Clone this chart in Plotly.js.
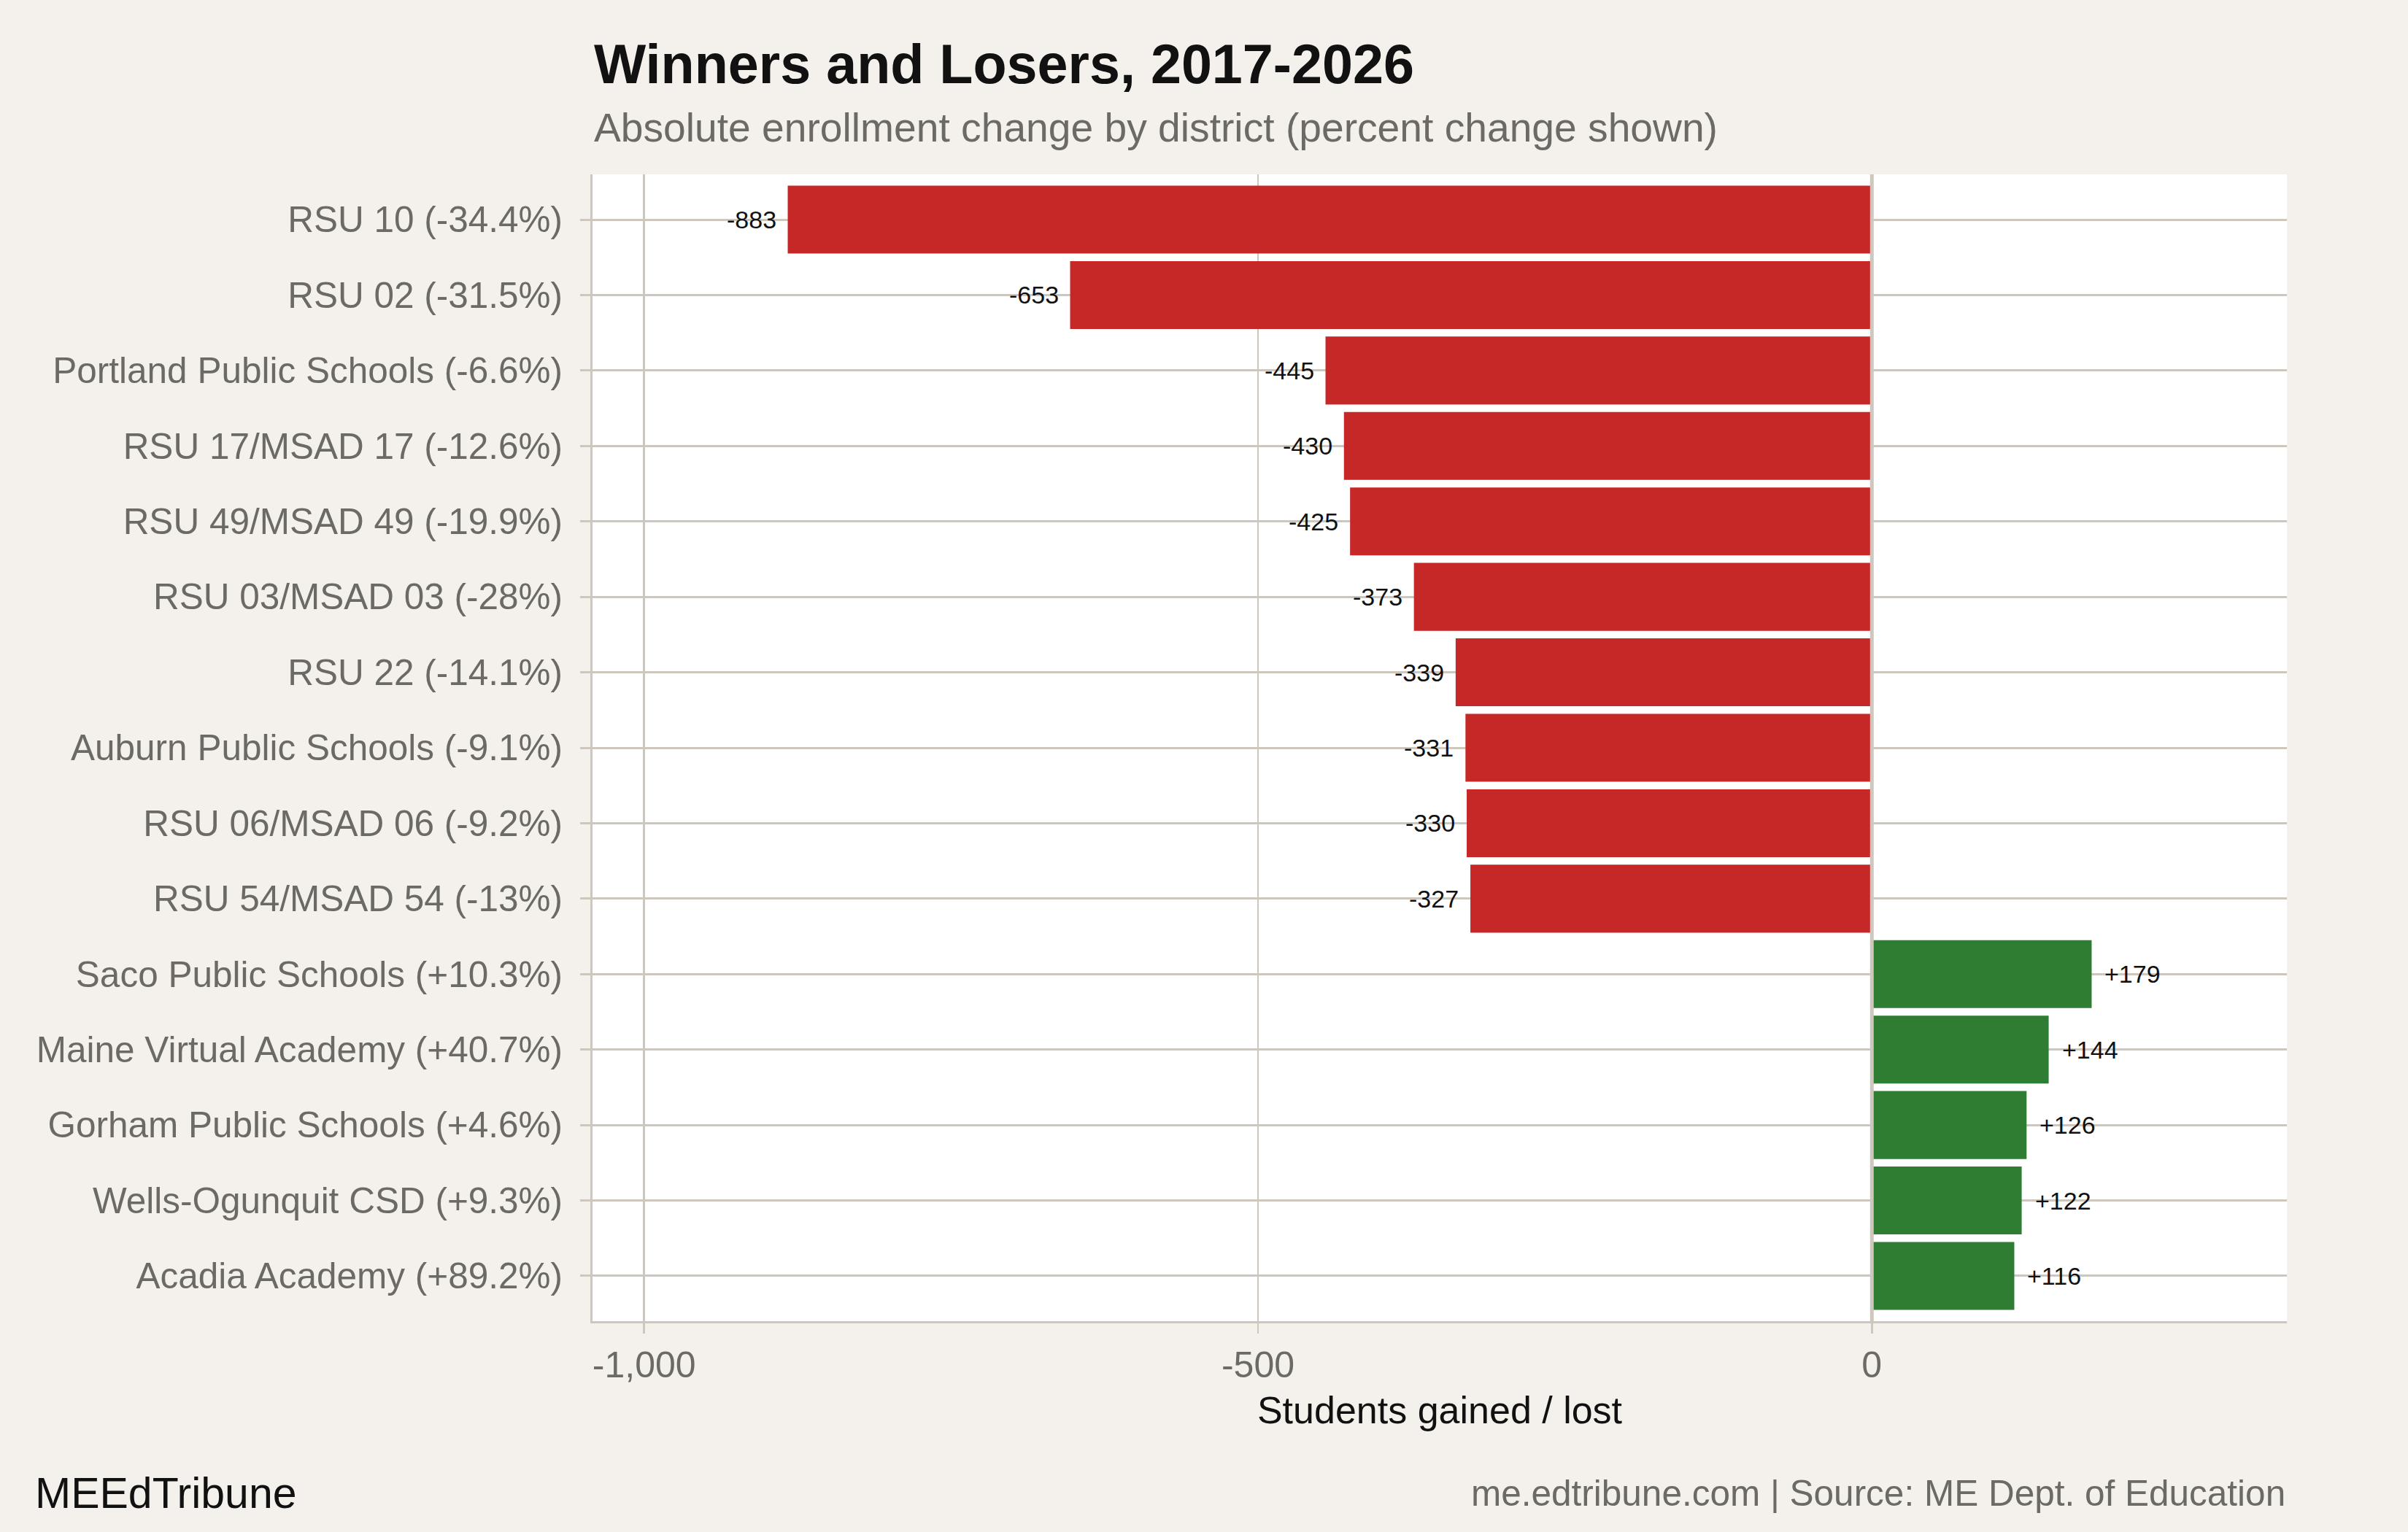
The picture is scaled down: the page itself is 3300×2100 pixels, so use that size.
<!DOCTYPE html>
<html>
<head>
<meta charset="utf-8">
<script src="https://cdn.plot.ly/plotly-3.0.1.min.js"></script>
<style>html,body{margin:0;padding:0;background:#F4F1EC;}</style>
</head>
<body>
<div id="chart" style="width:3300px;height:2100px;"></div>
<script>
const districts = [
  "RSU 10 (-34.4%)",
  "RSU 02 (-31.5%)",
  "Portland Public Schools (-6.6%)",
  "RSU 17/MSAD 17 (-12.6%)",
  "RSU 49/MSAD 49 (-19.9%)",
  "RSU 03/MSAD 03 (-28%)",
  "RSU 22 (-14.1%)",
  "Auburn Public Schools (-9.1%)",
  "RSU 06/MSAD 06 (-9.2%)",
  "RSU 54/MSAD 54 (-13%)",
  "Saco Public Schools (+10.3%)",
  "Maine Virtual Academy (+40.7%)",
  "Gorham Public Schools (+4.6%)",
  "Wells-Ogunquit CSD (+9.3%)",
  "Acadia Academy (+89.2%)"
];
const change = [-883, -653, -445, -430, -425, -373, -339, -331, -330, -327, 179, 144, 126, 122, 116];
const xTickVals = [-1000, -500, 0];
const xTickText = ["-1,000", "-500", "0"];

const RED = "#C62828", GREEN = "#2E7D32", GRID = "#CDC7BD";
const FONT = "Liberation Sans, Arial, Helvetica, sans-serif";

const trace = {
  type: "bar",
  orientation: "h",
  x: change,
  y: districts,
  width: 0.9,
  marker: { color: change.map(v => v < 0 ? RED : GREEN), line: { width: 0 } },
  hoverinfo: "skip"
};

const labelAnns = change.map((v, i) => ({
  x: v, y: districts[i], xref: "x", yref: "y",
  text: (v > 0 ? "+" : "") + v,
  showarrow: false,
  xanchor: v < 0 ? "right" : "left",
  yanchor: "middle",
  xshift: v < 0 ? -14 : 16,
  font: { family: FONT, size: 34, color: "#111111" }
}));

const textAnns = [
  { text: "<b>Winners and Losers, 2017-2026</b>", x: 0, y: 1.096, xref: "paper", yref: "paper",
    xanchor: "left", yanchor: "middle", showarrow: false,
    font: { family: FONT, size: 75.5, color: "#111111" } },
  { text: "Absolute enrollment change by district (percent change shown)", x: 0, y: 1.041, xref: "paper", yref: "paper",
    xanchor: "left", yanchor: "middle", showarrow: false,
    font: { family: FONT, size: 55.2, color: "#6B6A63" } },
  { text: "me.edtribune.com | Source: ME Dept. of Education", x: 1, y: -0.1500, xref: "paper", yref: "paper",
    xanchor: "right", yanchor: "middle", showarrow: false,
    font: { family: FONT, size: 49.5, color: "#6B6A63" } },
  { text: "MEEdTribune", x: -0.3299, y: -0.1500, xref: "paper", yref: "paper",
    xanchor: "left", yanchor: "middle", showarrow: false,
    font: { family: FONT, size: 59, color: "#111111" } }
];

const layout = {
  width: 3300, height: 2100,
  paper_bgcolor: "#F4F1EC",
  plot_bgcolor: "#FFFFFF",
  margin: { l: 812, r: 166, t: 239, b: 289 },
  showlegend: false,
  font: { family: FONT },
  xaxis: {
    range: [-1042, 338],
    tickvals: xTickVals, ticktext: xTickText,
    showgrid: true, gridcolor: GRID, gridwidth: 2.5,
    zeroline: false,
    showline: true, linecolor: GRID, linewidth: 3,
    ticks: "outside", ticklen: 14, tickwidth: 2.5, tickcolor: GRID,
    tickfont: { family: FONT, size: 50, color: "#6B6A63" },
    title: { text: "Students gained / lost", font: { family: FONT, size: 52, color: "#111111" }, standoff: 17 },
    fixedrange: true
  },
  yaxis: {
    type: "category",
    categoryorder: "array", categoryarray: districts,
    range: [14.6, -0.6],
    showgrid: true, gridcolor: GRID, gridwidth: 3,
    zeroline: false,
    showline: true, linecolor: GRID, linewidth: 3,
    ticks: "outside", ticklen: 14, tickwidth: 3, tickcolor: GRID,
    ticklabelstandoff: 14,
    tickfont: { family: FONT, size: 49.5, color: "#6B6A63" },
    fixedrange: true
  },
  shapes: [
    { type: "line", xref: "x", yref: "paper", x0: 0, x1: 0, y0: 0, y1: 1,
      line: { color: GRID, width: 5 }, layer: "above" }
  ],
  annotations: labelAnns.concat(textAnns)
};

Plotly.newPlot("chart", [trace], layout, { displayModeBar: false, staticPlot: true });
</script>
</body>
</html>
